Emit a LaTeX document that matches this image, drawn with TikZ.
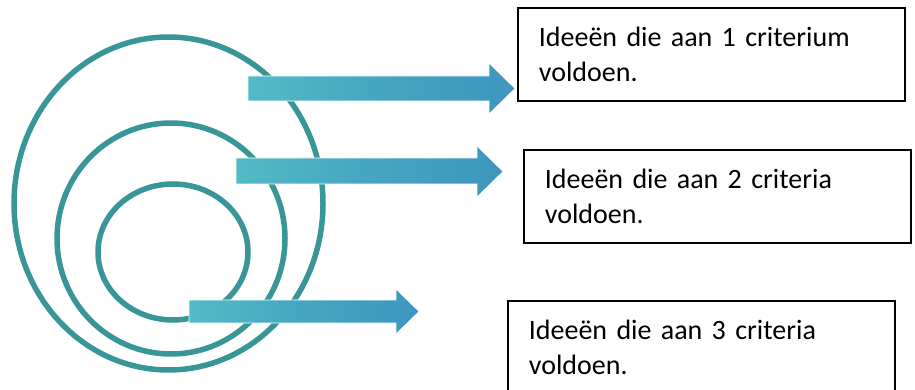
\documentclass[tikz,border=0pt]{standalone}
\usepackage{fontspec}
\setmainfont{Carlito}
\usetikzlibrary{positioning}
\definecolor{ringteal}{RGB}{56,150,152}
\definecolor{arrowleft}{RGB}{82,187,197}
\definecolor{arrowright}{RGB}{62,150,190}

\begin{document}
\begin{tikzpicture}[x=1pt, y=-1pt,
  ring/.style = {draw=ringteal, line width=5.5pt},
  bluearrow/.style = {left color=arrowleft, right color=arrowright,
    middle color=arrowleft!40!arrowright, draw=white, line width=0.6pt},
  textbox/.style = {draw=black, line width=1.8pt, anchor=north west, minimum width=387pt,
    minimum height=93pt, text width=345pt, inner xsep=21pt, align=left,
    font=\fontsize{28}{35}\selectfont}]
        \clip (0,0) rectangle (915,390);
        % rings
        \draw[ring] (168.5,203.5) ellipse [x radius=154.5, y radius=166.5];
        \draw[ring] (171,238.5) ellipse [x radius=114, y radius=115.5];
        \draw[ring] (173,252) ellipse [x radius=75, y radius=68];
        % arrows
        \shade[bluearrow] (248,76) -- (489,76) -- (489,63) -- (515,88.5) -- (489,114) -- (489,101) -- (248,101) -- cycle;
        \shade[bluearrow] (236,158) -- (477,158) -- (477,146) -- (503,171.5) -- (477,197) -- (477,184) -- (236,184) -- cycle;
        \shade[bluearrow] (189,300) -- (396,300) -- (396,289) -- (419,311.5) -- (396,334) -- (396,323) -- (189,323) -- cycle;
        % boxes
        \node[textbox] (box1) at (517,7) {Ideeën die aan 1 criterium\\voldoen.};
        \node[textbox] (box2) at (523,149) {Ideeën die aan 2 criteria\\voldoen.};
        \node[textbox] (box3) at (507,300) {Ideeën die aan 3 criteria\\voldoen.};
    \end{tikzpicture}
\end{document}
